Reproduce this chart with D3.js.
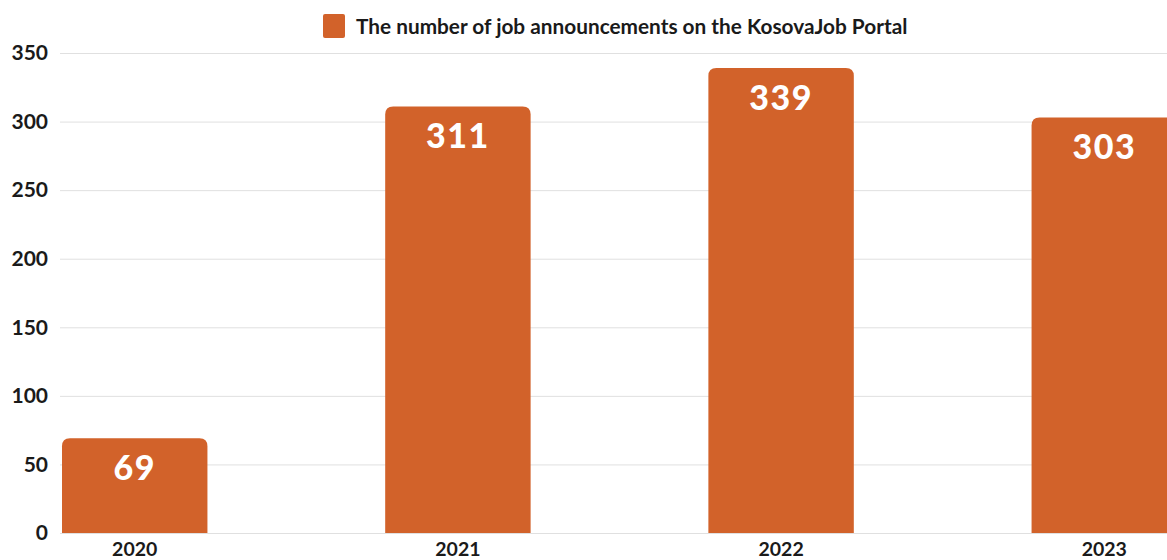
<!DOCTYPE html>
<html>
<head>
<meta charset="utf-8">
<script src="https://cdn.jsdelivr.net/npm/d3@7"></script>
<style>
  html, body { margin: 0; padding: 0; background: #fff; }
  svg { display: block; }
</style>
</head>
<body>
<svg id="chart" width="1167" height="560"></svg>
<script>
// Job announcements per year
const years = ["2020", "2021", "2022", "2023"];
const announcements = [69, 311, 339, 303];
const yTicks = [0, 50, 100, 150, 200, 250, 300, 350];
const seriesName = "The number of job announcements on the KosovaJob Portal";

const W = 1167, H = 560;
const barColor = "#d2622a";
const svg = d3.select("#chart");

const y = d3.scaleLinear().domain([0, 350]).range([533, 53]);
const x = d3.scaleBand().domain(years).range([62, 1177]).paddingInner(0.55).paddingOuter(0);

// Gridlines
svg.append("g").selectAll("line").data(yTicks).join("line")
  .attr("x1", 60).attr("x2", W)
  .attr("y1", d => y(d) + 0.5).attr("y2", d => y(d) + 0.5)
  .attr("stroke", "#e0e0e0").attr("stroke-width", 1);

// Y axis labels
svg.append("g").selectAll("text").data(yTicks).join("text")
  .attr("x", 48).attr("y", d => y(d)).attr("dy", "0.35em")
  .attr("text-anchor", "end")
  .attr("font-family", "Lato, sans-serif").attr("font-weight", 700)
  .attr("font-size", 21).attr("fill", "#1a1a1a")
  .text(d => d);

// Bars with rounded tops
const r = 8;
function barPath(x0, y0, w, y1) {
  return `M${x0},${y1}V${y0 + r}Q${x0},${y0} ${x0 + r},${y0}H${x0 + w - r}Q${x0 + w},${y0} ${x0 + w},${y0 + r}V${y1}Z`;
}
svg.append("g").selectAll("path").data(years).join("path")
  .attr("d", (d, i) => barPath(x(d), y(announcements[i]), x.bandwidth(), y(0)))
  .attr("fill", barColor);

// Value labels
svg.append("g").selectAll("text").data(years).join("text")
  .attr("x", d => x(d) + x.bandwidth() / 2)
  .attr("y", (d, i) => y(announcements[i]) + 42)
  .attr("text-anchor", "middle")
  .attr("font-family", "Lato, sans-serif").attr("font-weight", 900)
  .attr("font-size", 34).attr("letter-spacing", 1.5).attr("fill", "#fff")
  .text((d, i) => announcements[i]);

// X axis labels
svg.append("g").selectAll("text").data(years).join("text")
  .attr("x", d => x(d) + x.bandwidth() / 2)
  .attr("y", 556)
  .attr("text-anchor", "middle")
  .attr("font-family", "Lato, sans-serif").attr("font-weight", 700)
  .attr("font-size", 19.5).attr("fill", "#1a1a1a")
  .text(d => d);

// Legend
const lg = svg.append("g");
lg.append("rect").attr("x", 323).attr("y", 14).attr("width", 22).attr("height", 24)
  .attr("rx", 2).attr("fill", barColor);
lg.append("text").attr("x", 356).attr("y", 27).attr("dy", "0.35em")
  .attr("font-family", "Lato, sans-serif").attr("font-weight", 700)
  .attr("font-size", 20.8).attr("fill", "#1a1a1a")
  .text(seriesName);
</script>
</body>
</html>
